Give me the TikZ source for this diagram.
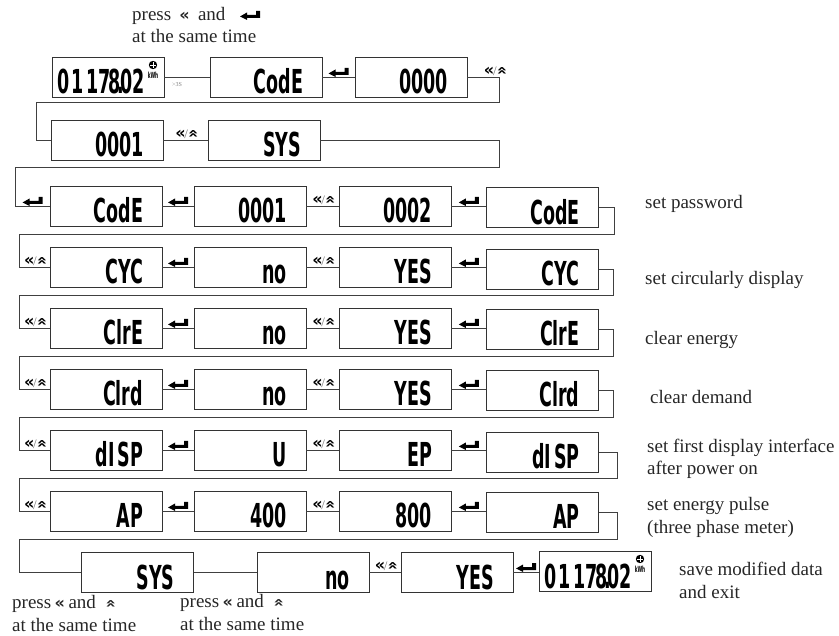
\documentclass[tikz,border=0pt]{standalone}
\usepackage{fontspec}
\setmainfont{Liberation Serif}
\newfontfamily\lcdfont{DejaVu Sans}
\usetikzlibrary{positioning}

\newcommand{\lcd}[1]{\makebox[93pt][r]{\fontsize{20}{20}\lcdfont\bfseries\scalebox{.875}[1.65]{#1}}}
\newcommand{\keydown}{{\fontsize{16}{16}\lcdfont\bfseries\kern-.08em«\kern-.08em}}
\newcommand{\keyup}{\rotatebox[origin=c]{-90}{\scalebox{.85}[1.15]{\keydown}}}
\newcommand{\keypair}{\keydown{\color{black!55}\fontsize{13}{13}\selectfont/}\keyup}

\tikzset{
  lcdbox/.style={draw=black!80,line width=.8pt,inner sep=0pt,text height=37pt,text depth=3pt,
    text width=112pt,align=left},
  link/.style={draw=black!75,line width=.9pt},
  keylabel/.style={inner sep=0pt,anchor=south,xshift=1.5pt,yshift=1pt},
  note/.style={align=left,anchor=base west,inner sep=0pt,text=black!85,font=\fontsize{19}{22.7}\selectfont},
  enterkey/.pic={
    \fill[black] (-10,1.5) -- (-3,-2.5) -- (-3,0) -- (6,0) -- (6,-4) -- (10,-4) -- (10,3) -- (-3,3) -- (-3,5) -- cycle;
  },
  kwhmark/.pic={
    \fill[black] (0,0) circle (4.2);
    \draw[white,line width=.6pt] (-3,0) -- (3,0) (0,-3) -- (0,3);
    \node[inner sep=0pt,font=\fontsize{6.5}{6.5}\lcdfont\bfseries] (#1) at (0,10.5) {\scalebox{.65}[1.3]{kWh}};
  },
}

\begin{document}
\begin{tikzpicture}[x=1pt,y=-1pt]
\useasboundingbox (0,0) rectangle (839,636);

\node[lcdbox] (meterA) at (108,77) {\lcd{0\kern.12em 1\kern.12em 17\kern-.1em 8\kern-.2em.\kern-.2em 02}};
\node[lcdbox] (codeA) at (266,77) {\lcd{CodE}};
\node[lcdbox] (zeroA) at (411,77) {\lcd{0000}};
\node[lcdbox] (oneA) at (107,140) {\lcd{0001}};
\node[lcdbox] (sysA) at (264,140) {\lcd{SYS}};

\node[lcdbox] (codeB) at (106,206) {\lcd{CodE}};
\node[lcdbox] (oneB) at (250,206) {\lcd{0001}};
\node[lcdbox] (twoB) at (395,206) {\lcd{0002}};
\node[lcdbox] (codeC) at (542.5,207.5) {\lcd{CodE}};

\node[lcdbox] (cycA) at (106,267) {\lcd{CYC}};
\node[lcdbox] (cycNo) at (250,267) {\lcd{no}};
\node[lcdbox] (cycYes) at (395,267) {\lcd{YES}};
\node[lcdbox] (cycB) at (542.5,269) {\lcd{CYC}};

\node[lcdbox] (clreA) at (106,328) {\lcd{ClrE}};
\node[lcdbox] (clreNo) at (250,328) {\lcd{no}};
\node[lcdbox] (clreYes) at (395,328) {\lcd{YES}};
\node[lcdbox] (clreB) at (542.5,329) {\lcd{ClrE}};

\node[lcdbox] (clrdA) at (106,389) {\lcd{Clrd}};
\node[lcdbox] (clrdNo) at (250,389) {\lcd{no}};
\node[lcdbox] (clrdYes) at (395,389) {\lcd{YES}};
\node[lcdbox] (clrdB) at (542.5,390) {\lcd{Clrd}};

\node[lcdbox] (dispA) at (106,450) {\lcd{dI\,SP}};
\node[lcdbox] (dispU) at (250,450) {\lcd{U}};
\node[lcdbox] (dispEp) at (395,450) {\lcd{EP}};
\node[lcdbox] (dispB) at (542.5,452) {\lcd{dI\,SP}};

\node[lcdbox] (apA) at (106,511) {\lcd{AP}};
\node[lcdbox] (apLow) at (250,511) {\lcd{400}};
\node[lcdbox] (apHigh) at (395,511) {\lcd{800}};
\node[lcdbox] (apB) at (542.5,512) {\lcd{AP}};

\node[lcdbox] (sysB) at (137.5,572) {\lcd{SYS}};
\node[lcdbox] (noEnd) at (313,572) {\lcd{no}};
\node[lcdbox] (yesEnd) at (457,572) {\lcd{YES}};
\node[lcdbox] (meterB) at (595,571) {\lcd{0\kern.12em 1\kern.12em 17\kern-.1em 8\kern-.2em.\kern-.2em 02}};

\pic at (153,65) {kwhmark=kwhA};
\pic at (640,559) {kwhmark=kwhB};

\coordinate (rOne) at (499,102.5);
\coordinate (lOne) at (36,102.5);
\coordinate (rTwo) at (499,167);
\coordinate (lTwo) at (15.5,167);
\coordinate (rThree) at (614,234);
\coordinate (lThree) at (19,234);
\coordinate (rFour) at (613,295);
\coordinate (lFour) at (19,295);
\coordinate (rFive) at (613,356);
\coordinate (lFive) at (19,356);
\coordinate (rSix) at (613,417);
\coordinate (lSix) at (19,417);
\coordinate (rSeven) at (617,478);
\coordinate (lSeven) at (19,478);
\coordinate (rEight) at (617,539);
\coordinate (lEight) at (19,539);

\draw[link] (meterA) -- node[below=5pt,xshift=-10pt,inner sep=0pt,text=black!50,font=\fontsize{6}{6}\selectfont] (holdLabel) {>3S} (codeA);
\draw[link] (zeroA) -- pic[yshift=5pt] {enterkey} (codeA);
\draw[link] (zeroA.east) -| node[keylabel,pos=.25,xshift=11pt] (keyA) {\keypair} (rOne) -- (lOne) |- (oneA.west);
\draw[link] (oneA) -- node[keylabel] (keyB) {\keypair} (sysA);
\draw[link] (sysA.east) -| (rTwo) -- (lTwo) |- pic[pos=.75,yshift=5pt] {enterkey} (codeB.west);

\draw[link] (codeB) -- pic[yshift=5pt] {enterkey} (oneB);
\draw[link] (oneB) -- node[keylabel] (keyC) {\keypair} (twoB);
\draw[link] (twoB.east) -- pic[yshift=5pt] {enterkey} (twoB.east -| codeC.west);
\draw[link] (codeC.east) -| (rThree) -- (lThree) |- node[keylabel,pos=.75] (keyD) {\keypair} (cycA.west);

\draw[link] (cycA) -- pic[yshift=5pt] {enterkey} (cycNo);
\draw[link] (cycNo) -- node[keylabel] (keyE) {\keypair} (cycYes);
\draw[link] (cycYes.east) -- pic[yshift=5pt] {enterkey} (cycYes.east -| cycB.west);
\draw[link] (cycB.east) -| (rFour) -- (lFour) |- node[keylabel,pos=.75] (keyF) {\keypair} (clreA.west);

\draw[link] (clreA) -- pic[yshift=5pt] {enterkey} (clreNo);
\draw[link] (clreNo) -- node[keylabel] (keyG) {\keypair} (clreYes);
\draw[link] (clreYes.east) -- pic[yshift=5pt] {enterkey} (clreYes.east -| clreB.west);
\draw[link] (clreB.east) -| (rFive) -- (lFive) |- node[keylabel,pos=.75] (keyH) {\keypair} (clrdA.west);

\draw[link] (clrdA) -- pic[yshift=5pt] {enterkey} (clrdNo);
\draw[link] (clrdNo) -- node[keylabel] (keyI) {\keypair} (clrdYes);
\draw[link] (clrdYes.east) -- pic[yshift=5pt] {enterkey} (clrdYes.east -| clrdB.west);
\draw[link] (clrdB.east) -| (rSix) -- (lSix) |- node[keylabel,pos=.75] (keyJ) {\keypair} (dispA.west);

\draw[link] (dispA) -- pic[yshift=5pt] {enterkey} (dispU);
\draw[link] (dispU) -- node[keylabel] (keyK) {\keypair} (dispEp);
\draw[link] (dispEp.east) -- pic[yshift=5pt] {enterkey} (dispEp.east -| dispB.west);
\draw[link] (dispB.east) -| (rSeven) -- (lSeven) |- node[keylabel,pos=.75] (keyL) {\keypair} (apA.west);

\draw[link] (apA) -- pic[yshift=5pt] {enterkey} (apLow);
\draw[link] (apLow) -- node[keylabel] (keyM) {\keypair} (apHigh);
\draw[link] (apHigh.east) -- pic[yshift=5pt] {enterkey} (apHigh.east -| apB.west);
\draw[link] (apB.east) -| (rEight) -- (lEight) |- (sysB.west);

\draw[link] (sysB) -- (noEnd);
\draw[link] (noEnd) -- node[keylabel] (keyN) {\keypair} (yesEnd);
\draw[link] (yesEnd.east) -- pic[yshift=5pt] {enterkey} (yesEnd.east -| meterB.west);

\node[note] (pressTop) at (132,43) {press\ \ \keydown\ \ and\\at the same time};
\pic at (250,15) {enterkey};
\node[note] (pressLeft) at (12,631) {press \keydown{} and\ \ \keyup\\at the same time};
\node[note] (pressMid) at (180,630) {press \keydown{} and\ \ \keyup\\at the same time};

\node[note] (noteCode) at (645,209) {set password};
\node[note] (noteCyc) at (645,285) {set circularly display};
\node[note] (noteClre) at (645,345) {clear energy};
\node[note] (noteClrd) at (650,404) {clear demand};
\node[note] (noteDisp) at (647,475) {set first display interface\\after power on};
\node[note] (noteAp) at (647,533) {set energy pulse\\(three phase meter)};
\node[note] (noteSave) at (679,598) {save modified data\\and exit};
\end{tikzpicture}
\end{document}
